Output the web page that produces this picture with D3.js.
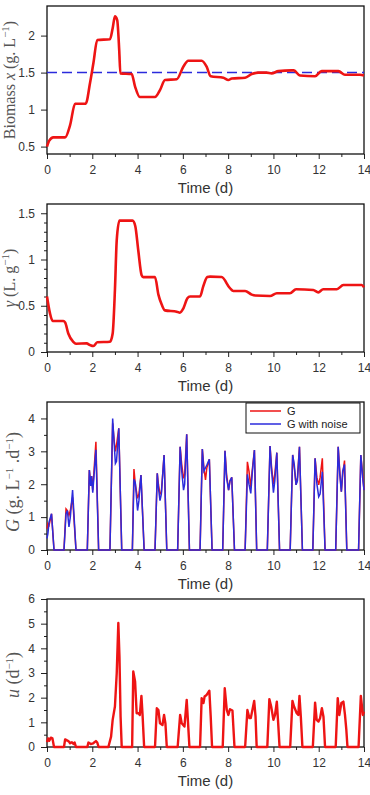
<!DOCTYPE html>
<html>
<head>
<meta charset="utf-8">
<script src="https://cdn.jsdelivr.net/npm/d3@7"></script>
<style>
  body { margin: 0; background: #fff; }
  svg { display: block; }
  .tick text { font-family: "Liberation Sans", Arial, sans-serif; font-size: 12px; fill: #333; }
  .tick line { stroke: #222; }
  .xlab { font-family: "Liberation Sans", Arial, sans-serif; font-size: 15px; fill: #333; }
  .ylab { font-family: "Liberation Serif", "Times New Roman", serif; font-size: 18px; fill: #555; }
  .leg { font-family: "Liberation Sans", Arial, sans-serif; font-size: 11px; fill: #222; }
</style>
</head>
<body>
<div id="chart"></div>
<script>
// panel 1: biomass
var bioT = [0, 0.1, 0.28, 0.8, 1.02, 1.24, 1.71, 1.9, 2.05, 2.22, 2.78, 2.9, 3.0, 3.1, 3.19, 3.24, 3.74, 3.89, 4.1, 4.77, 5.0, 5.21, 5.73, 6.02, 6.24, 6.83, 7.05, 7.23, 7.79, 8.01, 8.16, 8.75, 9.04, 9.33, 9.7, 9.92, 10.22, 10.8, 10.9, 11.17, 11.84, 12.13, 12.87, 13.16, 13.82, 14];
var bioX = [0.5, 0.58, 0.625, 0.625, 0.79, 1.08, 1.08, 1.36, 1.63, 1.94, 1.95, 2.1, 2.26, 2.21, 1.8, 1.49, 1.48, 1.31, 1.17, 1.17, 1.27, 1.4, 1.41, 1.58, 1.66, 1.66, 1.58, 1.45, 1.43, 1.40, 1.42, 1.43, 1.48, 1.5, 1.5, 1.49, 1.52, 1.53, 1.53, 1.46, 1.45, 1.52, 1.52, 1.47, 1.47, 1.46];
var bioSetpoint = 1.5;

// panel 2: gamma
var gamT = [0, 0.13, 0.25, 0.72, 0.8, 0.94, 1.16, 1.28, 1.75, 1.9, 2.05, 2.22, 2.78, 2.9, 3.0, 3.08, 3.2, 3.78, 3.9, 4.03, 4.18, 4.25, 4.77, 4.92, 5.07, 5.21, 5.73, 5.87, 6.02, 6.2, 6.32, 6.76, 6.9, 7.08, 7.2, 7.71, 8.08, 8.23, 8.75, 9.04, 9.2, 9.85, 10.15, 10.73, 11.0, 11.76, 11.98, 12.2, 12.8, 13.09, 13.9, 14];
var gamV = [0.6, 0.42, 0.335, 0.335, 0.32, 0.2, 0.11, 0.09, 0.093, 0.075, 0.065, 0.105, 0.11, 0.2, 0.67, 1.21, 1.42, 1.42, 1.36, 1.1, 0.83, 0.81, 0.81, 0.62, 0.51, 0.45, 0.436, 0.425, 0.47, 0.58, 0.6, 0.6, 0.71, 0.81, 0.815, 0.81, 0.69, 0.66, 0.66, 0.62, 0.61, 0.605, 0.635, 0.635, 0.678, 0.67, 0.645, 0.678, 0.678, 0.724, 0.724, 0.70];

// panel 3: G and G with noise
var gT = [0, 0.04, 0.09, 0.2, 0.31,
  0.75, 0.84, 0.9, 0.97, 1.03, 1.13, 1.28,
  1.78, 1.87, 1.93, 1.97, 2.02, 2.16, 2.28,
  2.78, 2.9, 2.97, 3.02, 3.07, 3.17, 3.3,
  3.77, 3.84, 3.9, 4.0, 4.06, 4.15, 4.29,
  4.77, 4.87, 4.92, 4.99, 5.05, 5.17, 5.29,
  5.77, 5.88, 5.95, 6.03, 6.08, 6.17, 6.29,
  6.76, 6.86, 6.93, 7.0, 7.06, 7.17, 7.29,
  7.76, 7.86, 7.93, 8.02, 8.08, 8.16, 8.28,
  8.75, 8.85, 8.92, 9.0, 9.06, 9.16, 9.26,
  9.73, 9.85, 9.92, 10.0, 10.06, 10.15, 10.27,
  10.74, 10.85, 10.92, 11.0, 11.06, 11.15, 11.28,
  11.74, 11.84, 11.92, 12.0, 12.06, 12.16, 12.28,
  12.75, 12.86, 12.93, 13.0, 13.06, 13.14, 13.24,
  13.76, 13.86, 13.94, 14];
var gV = [0.65, 0.8, 0.75, 1.1, 0,
  0, 1.25, 1.2, 1.05, 1.2, 1.6, 0,
  0, 2.43, 2.0, 2.25, 1.82, 3.29, 0,
  0, 3.85, 3.3, 3.0, 3.2, 3.7, 0,
  0, 2.46, 2.0, 1.57, 1.7, 2.28, 0,
  0, 2.33, 2.0, 1.7, 1.75, 2.89, 0,
  0, 3.14, 2.6, 2.18, 2.3, 3.52, 0,
  0, 3.07, 2.5, 2.13, 2.5, 2.76, 0,
  0, 3.02, 2.3, 1.82, 2.1, 2.21, 0,
  0, 2.68, 2.4, 1.9, 2.4, 3.04, 0,
  0, 3.16, 2.5, 2.0, 2.3, 2.96, 0,
  0, 2.89, 2.5, 1.98, 2.2, 3.14, 0,
  0, 2.79, 2.2, 1.98, 2.2, 2.79, 0,
  0, 3.14, 2.4, 1.77, 2.3, 2.72, 0,
  0, 2.89, 2.3, 1.82];
var gNoiseV = [0.35, 0.5, 0.85, 1.1, 0,
  0, 1.1, 1.2, 0.7, 1.0, 1.82, 0,
  0, 2.43, 1.95, 2.25, 1.74, 3.05, 0,
  0, 4.0, 3.2, 2.63, 2.7, 3.7, 0,
  0, 2.15, 2.05, 1.2, 1.5, 2.28, 0,
  0, 2.33, 1.9, 1.5, 1.7, 2.89, 0,
  0, 3.14, 2.4, 1.82, 2.0, 3.52, 0,
  0, 3.07, 2.4, 2.5, 2.58, 2.76, 0,
  0, 3.02, 2.2, 1.82, 2.1, 2.21, 0,
  0, 2.3, 2.0, 1.72, 2.3, 3.04, 0,
  0, 3.16, 2.4, 1.74, 2.1, 2.96, 0,
  0, 2.89, 2.6, 1.98, 2.1, 3.14, 0,
  0, 2.79, 2.0, 1.62, 1.7, 2.38, 0,
  0, 3.14, 2.3, 1.77, 2.4, 2.6, 0,
  0, 2.89, 2.2, 1.82];

// panel 4: u
var uT = [0, 0.05, 0.1, 0.17, 0.24, 0.31,
  0.75, 0.8, 0.9, 0.99, 1.02, 1.1, 1.17, 1.22, 1.28,
  1.78, 1.83, 1.93, 2.04, 2.16, 2.22, 2.28,
  2.71, 2.83, 2.9, 3.0, 3.08, 3.15, 3.2, 3.25, 3.3,
  3.76, 3.81, 3.89, 3.96, 4.04, 4.1, 4.17, 4.22, 4.29,
  4.77, 4.85, 4.92, 4.99, 5.1, 5.17, 5.23, 5.29,
  5.77, 5.88, 5.95, 6.07, 6.17, 6.23, 6.29,
  6.76, 6.83, 6.91, 6.96, 7.05, 7.17, 7.23, 7.29,
  7.76, 7.85, 7.94, 8.01, 8.08, 8.19, 8.28,
  8.75, 8.85, 8.94, 9.0, 9.15, 9.21, 9.26,
  9.73, 9.82, 9.9, 10.0, 10.07, 10.15, 10.21, 10.27,
  10.74, 10.84, 10.91, 11.03, 11.1, 11.15, 11.21, 11.28,
  11.74, 11.84, 11.91, 11.99, 12.06, 12.14, 12.21, 12.28,
  12.75, 12.84, 12.91, 13.0, 13.09, 13.16, 13.22, 13.27,
  13.76, 13.86, 13.95, 14];
var uV = [0.2, 0.35, 0.25, 0.38, 0.35, 0,
  0, 0.31, 0.26, 0.2, 0.15, 0.19, 0.12, 0.18, 0,
  0, 0.18, 0.12, 0.15, 0.24, 0.18, 0,
  0, 0.42, 1.1, 1.64, 3.0, 5.03, 3.67, 1.23, 0,
  0, 3.06, 2.66, 1.37, 1.37, 1.3, 2.07, 1.3, 0,
  0, 1.57, 1.5, 0.96, 0.89, 1.3, 0.96, 0,
  0, 1.3, 0.96, 0.83, 1.91, 0.96, 0,
  0, 1.98, 1.78, 2.05, 2.11, 2.28, 1.23, 0,
  0, 2.38, 1.5, 1.3, 1.53, 1.48, 0,
  0, 1.5, 1.17, 1.17, 1.87, 1.23, 0,
  0, 1.94, 1.64, 1.1, 1.3, 1.84, 0.96, 0,
  0, 1.87, 1.64, 1.37, 1.3, 2.07, 1.23, 0,
  0, 1.8, 1.1, 1.03, 1.17, 1.57, 1.23, 0,
  0, 1.98, 1.3, 1.78, 1.84, 1.3, 0.69, 0,
  0, 2.07, 1.3, 1.44];

var xTicks = [0, 2, 4, 6, 8, 10, 12, 14];
var xMinor = [1, 3, 5, 7, 9, 11, 13];
var legendNames = ["G", "G with noise"];

var width = 370, height = 795;
var left = 47, right = 364, plotH = 148;
var red = "#ee1414", blue = "#2b2bdc";

var svg = d3.select("#chart").append("svg")
    .attr("width", width)
    .attr("height", height);

var x = d3.scaleLinear().domain([0, 14]).range([left, right]);

function zip(ts, vs) {
    return ts.map((t, i) => [t, vs[i]]);
}

function drawPanel(p) {
    var g = svg.append("g");
    var y = d3.scaleLinear().domain(p.yDomain).range([p.top + plotH, p.top]);
    var bottom = p.top + plotH;

    // minor ticks first, then major ones with labels
    g.append("g")
        .attr("transform", `translate(0,${bottom})`)
        .call(d3.axisBottom(x).tickValues(xMinor).tickSize(3).tickFormat(""))
        .call(a => a.select(".domain").remove());
    g.append("g")
        .attr("transform", `translate(0,${bottom})`)
        .call(d3.axisBottom(x).tickValues(xTicks).tickSize(5).tickPadding(6).tickFormat(d3.format("d")))
        .call(a => a.select(".domain").remove());

    if (p.yMinor) {
        g.append("g")
            .attr("transform", `translate(${left},0)`)
            .call(d3.axisLeft(y).tickValues(p.yMinor).tickSize(3).tickFormat(""))
            .call(a => a.select(".domain").remove());
    }
    g.append("g")
        .attr("transform", `translate(${left},0)`)
        .call(d3.axisLeft(y).tickValues(p.yTicks).tickSize(6).tickPadding(6).tickFormat(d3.format("~g")))
        .call(a => a.select(".domain").remove());

    // frame
    g.append("rect")
        .attr("x", left).attr("y", p.top)
        .attr("width", right - left).attr("height", plotH)
        .attr("fill", "none").attr("stroke", "#111").attr("stroke-width", 1.3);

    g.append("text")
        .attr("class", "xlab")
        .attr("x", (left + right) / 2)
        .attr("y", bottom + 38.5)
        .attr("text-anchor", "middle")
        .text("Time (d)");

    // y label with math style parts
    var lab = g.append("text")
        .attr("class", "ylab")
        .attr("text-anchor", "middle")
        .style("font-size", (p.labSize || 18) + "px")
        .attr("transform", `translate(${p.labX},${p.labY}) rotate(-90)`);
    var shift = 0;
    p.label.forEach(part => {
        var s = lab.append("tspan").text(part.t);
        if (part.i) s.style("font-style", "italic");
        if (part.sup) {
            s.attr("dy", -6).style("font-size", "11px");
            shift = 6;
        } else if (shift) {
            s.attr("dy", shift);
            shift = 0;
        }
    });

    return { g: g, y: y };
}

// Panel 1
var p1 = drawPanel({
    top: 6, yDomain: [0.4, 2.4], yTicks: [0.5, 1, 1.5, 2], labX: 15, labY: 80, labSize: 16,
    label: [{t: "Biomass "}, {t: "x", i: true}, {t: " (g. L"}, {t: "−1", sup: true}, {t: ")"}]
});
p1.g.append("line")
    .attr("x1", x(0)).attr("x2", x(14))
    .attr("y1", p1.y(bioSetpoint)).attr("y2", p1.y(bioSetpoint))
    .attr("stroke", blue).attr("stroke-width", 1.5)
    .attr("stroke-dasharray", "10,5");
p1.g.append("path")
    .datum(zip(bioT, bioX))
    .attr("d", d3.line().x(d => x(d[0])).y(d => p1.y(d[1])).curve(d3.curveMonotoneX))
    .attr("fill", "none").attr("stroke", red).attr("stroke-width", 2.6);

// Panel 2
var p2 = drawPanel({
    top: 204, yDomain: [0, 1.6], yTicks: [0, 0.5, 1, 1.5],
    yMinor: d3.range(0.1, 1.6, 0.1).filter(v => Math.abs(v * 2 - Math.round(v * 2)) > 0.01),
    labX: 15, labY: 278, labSize: 16,
    label: [{t: "γ", i: true}, {t: " (L. g"}, {t: "−1", sup: true}, {t: ")"}]
});
p2.g.append("path")
    .datum(zip(gamT, gamV))
    .attr("d", d3.line().x(d => x(d[0])).y(d => p2.y(d[1])).curve(d3.curveMonotoneX))
    .attr("fill", "none").attr("stroke", red).attr("stroke-width", 2.6);

// Panel 3
var p3 = drawPanel({
    top: 402, yDomain: [0, 4.5], yTicks: [0, 1, 2, 3, 4], yMinor: [0.5, 1.5, 2.5, 3.5],
    labX: 19, labY: 482,
    label: [{t: "G", i: true}, {t: " (g. L"}, {t: "−1", sup: true}, {t: " .d"}, {t: "−1", sup: true}, {t: ")"}]
});
var line3 = d3.line().x(d => x(d[0])).y(d => p3.y(d[1]));
p3.g.append("path")
    .datum(zip(gT, gV))
    .attr("d", line3)
    .attr("fill", "none").attr("stroke", red).attr("stroke-width", 1.5);
p3.g.append("path")
    .datum(zip(gT, gNoiseV))
    .attr("d", line3)
    .attr("fill", "none").attr("stroke", blue).attr("stroke-width", 1.5);

// legend
var leg = p3.g.append("g");
leg.append("rect")
    .attr("x", 246).attr("y", 403).attr("width", 114).attr("height", 30)
    .attr("fill", "#fff").attr("stroke", "#111").attr("stroke-width", 1);
legendNames.forEach((name, i) => {
    var ly = 411 + i * 13;
    leg.append("line")
        .attr("x1", 250).attr("x2", 281).attr("y1", ly).attr("y2", ly)
        .attr("stroke", i === 0 ? red : blue).attr("stroke-width", 1.5);
    leg.append("text")
        .attr("class", "leg")
        .attr("x", 287).attr("y", ly + 4)
        .text(name);
});

// Panel 4
var p4 = drawPanel({
    top: 599, yDomain: [0, 6], yTicks: [0, 1, 2, 3, 4, 5, 6], yMinor: [0.5, 1.5, 2.5, 3.5, 4.5, 5.5],
    labX: 19, labY: 675,
    label: [{t: "u", i: true}, {t: " (d"}, {t: "−1", sup: true}, {t: ")"}]
});
p4.g.append("path")
    .datum(zip(uT, uV))
    .attr("d", d3.line().x(d => x(d[0])).y(d => p4.y(d[1])))
    .attr("fill", "none").attr("stroke", red).attr("stroke-width", 2.4)
    .attr("stroke-linejoin", "round");
</script>
</body>
</html>
